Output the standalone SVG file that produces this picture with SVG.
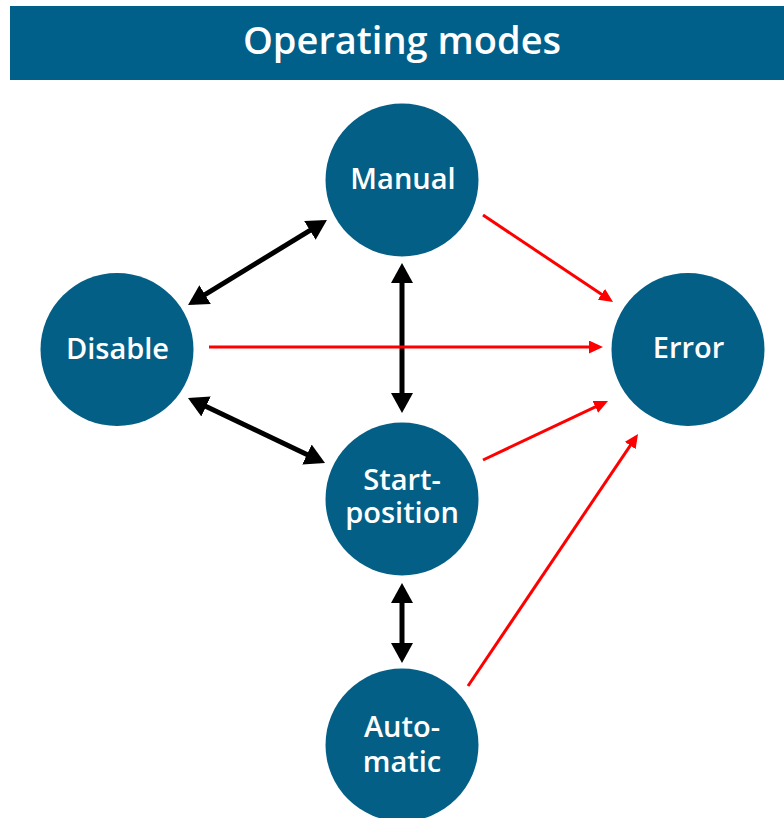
<svg xmlns="http://www.w3.org/2000/svg" width="784" height="818" viewBox="0 0 784 818">
  <style>
    .node circle { fill: #045f86; }
    .node text { fill: #ffffff; font-family: "Open Sans", "Liberation Sans", sans-serif; font-weight: 600; font-size: 29px; text-anchor: middle; }
    .title { fill: #ffffff; font-family: "Open Sans", "Liberation Sans", sans-serif; font-weight: 600; font-size: 38px; text-anchor: middle; }
    .both { stroke: #000000; stroke-width: 5; fill: none; marker-start: url(#blackHead); marker-end: url(#blackHead); }
    .fault { stroke: #ff0000; stroke-width: 3; fill: none; marker-end: url(#redHead); }
  </style>
  <defs>
    <marker id="blackHead" markerUnits="userSpaceOnUse" markerWidth="20" markerHeight="22" refX="15" refY="11" orient="auto-start-reverse">
      <path d="M0,0 L20,11 L0,22 z" fill="#000000"/>
    </marker>
    <marker id="redHead" markerUnits="userSpaceOnUse" markerWidth="14" markerHeight="13" refX="10" refY="6.5" orient="auto">
      <path d="M0,0 L14,6.5 L0,13 z" fill="#ff0000"/>
    </marker>
  </defs>

  <rect x="0" y="0" width="784" height="818" fill="#ffffff"/>

  <!-- header bar -->
  <g id="header">
    <rect x="10" y="6" width="774" height="74" fill="#00608a"/>
    <text class="title" x="402" y="54">Operating modes</text>
  </g>

  <!-- connectors -->
  <g id="connectors">
    <line class="both" x1="192.3" y1="302.4" x2="322.7" y2="222.6"/>
    <line class="both" x1="402" y1="268" x2="402" y2="408"/>
    <line class="both" x1="192.5" y1="400.1" x2="320.5" y2="460.9"/>
    <line class="both" x1="402" y1="588" x2="402" y2="658"/>

    <line class="fault" x1="483" y1="215" x2="609.7" y2="299.8"/>
    <line class="fault" x1="209" y1="347" x2="599" y2="347"/>
    <line class="fault" x1="483" y1="460" x2="604.4" y2="402.7"/>
    <line class="fault" x1="468" y1="686" x2="635.8" y2="437.3"/>
  </g>

  <!-- nodes -->
  <g id="manual" class="node">
    <circle cx="402" cy="180" r="76.5"/>
    <text x="403" y="189">Manual</text>
  </g>
  <g id="disable" class="node">
    <circle cx="117" cy="349.5" r="76.5"/>
    <text x="117.5" y="359">Disable</text>
  </g>
  <g id="error" class="node">
    <circle cx="688" cy="349.5" r="76.5"/>
    <text x="688.5" y="358">Error</text>
  </g>
  <g id="start-position" class="node">
    <circle cx="402" cy="499" r="76.5"/>
    <text x="402" y="490">Start-<tspan x="402" dy="33">position</tspan></text>
  </g>
  <g id="automatic" class="node">
    <circle cx="402" cy="745" r="76.5"/>
    <text x="402" y="737">Auto-<tspan x="402" dy="35">matic</tspan></text>
  </g>
</svg>
